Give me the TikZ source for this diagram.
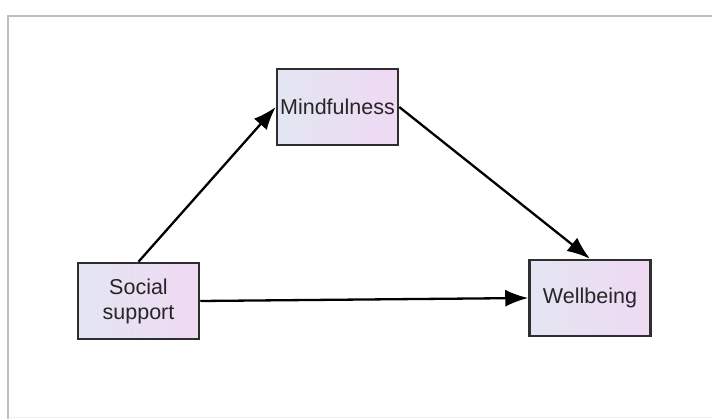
\documentclass[tikz,border=0pt]{standalone}
\usepackage{fontspec}
\setmainfont{Liberation Sans}
\usetikzlibrary{arrows.meta}
\definecolor{boxleft}{HTML}{E3E6F2}
\definecolor{boxright}{HTML}{EFD9F3}
\definecolor{boxline}{HTML}{2E2E2E}
\tikzset{
    varbox/.style={draw=boxline, line width=2.5pt, left color=boxleft, right color=boxright,
        minimum width=121pt, minimum height=76pt, inner sep=2pt, align=center,
        font=\fontsize{21.5}{25}\selectfont, text=black!85},
    path/.style={line width=2.3pt, -{Latex[length=23pt,width=17pt]}}
}
\begin{document}
\begin{tikzpicture}[x=1pt,y=-1pt]
        \useasboundingbox (0,0) rectangle (712,419);
        \fill[white] (0,0) rectangle (712,419);
        % frame of the window
        \draw[black!25, line width=2pt] (8,419) -- (8,16) -- (712,16);
        \draw[black!6, line width=1pt] (10,417) -- (712,417);
        % variables
        \node[varbox] (social) at (138.5,301) {Social\\support};
        \node[varbox] (mind) at (337.5,107) {Mindfulness};
        \node[varbox] (well) at (590,298) {Wellbeing};
        % paths
        \draw[path] (social.north) -- (mind.west);
        \draw[path] (mind.east) -- (well.north);
        \draw[path] (social.east) -- (well.west);
    \end{tikzpicture}
\end{document}
